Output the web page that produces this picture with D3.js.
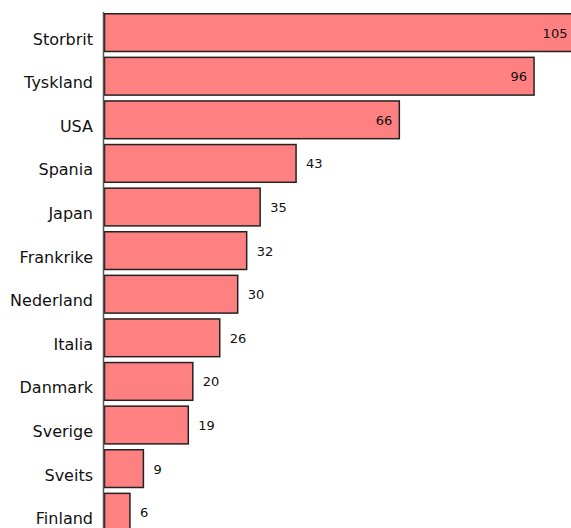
<!DOCTYPE html>
<html>
<head>
<meta charset="utf-8">
<script src="https://d3js.org/d3.v7.min.js"></script>
<style>
    body { margin: 0; background: #fff; }
    svg { display: block; }
    .cat { font-family: "DejaVu Sans", sans-serif; font-size: 16px; fill: #111; }
    .val { font-family: "DejaVu Sans", sans-serif; font-size: 13px; fill: #111; }
</style>
</head>
<body>
<svg id="chart"></svg>
<script>
var countries = ["Storbrit", "Tyskland", "USA", "Spania", "Japan", "Frankrike",
                 "Nederland", "Italia", "Danmark", "Sverige", "Sveits", "Finland"];
var values = [105, 96, 66, 43, 35, 32, 30, 26, 20, 19, 9, 6];

var data = countries.map(function (c, i) { return [c, values[i]]; });

var width = 571, height = 528;
var axisX = 103;   // where the axis line sits
var firstY = 13;
var step = 43.6;

var svg = d3.select("#chart")
    .attr("width", width)
    .attr("height", height);

var xScale = d3.scaleLinear()
    .domain([0, 105])
    .range([axisX, axisX + 105 * 4.49]);

var yScale = d3.scaleBand()
    .domain(countries)
    .range([firstY, firstY + step * (countries.length - 0.1)])
    .paddingInner(0.1)
    .paddingOuter(0);

// Bars
var bar = svg.selectAll("g.bar").data(data).enter()
    .append("g")
    .attr("class", "bar")
    .attr("transform", function (d) { return "translate(0," + yScale(d[0]) + ")"; });

bar.append("rect")
    .attr("x", xScale(0) + 1.5)
    .attr("y", 0.75)
    .attr("width", function (d) { return xScale(d[1]) - xScale(0) - 1.5; })
    .attr("height", yScale.bandwidth() - 1.5)
    .attr("fill", "#ff8080")
    .attr("stroke", "#222")
    .attr("stroke-width", 1.5);

// Value labels: inside the bar for long ones, outside for short ones
bar.append("text")
    .attr("class", "val")
    .attr("x", function (d) { return d[1] > 50 ? xScale(d[1]) - 7 : xScale(d[1]) + 10; })
    .attr("y", yScale.bandwidth() / 2 + 5)
    .attr("text-anchor", function (d) { return d[1] > 50 ? "end" : "start"; })
    .text(function (d) { return d[1]; });

// Category labels
svg.selectAll("text.cat").data(data).enter()
    .append("text")
    .attr("class", "cat")
    .attr("x", 93)
    .attr("y", function (d) { return yScale(d[0]) + yScale.bandwidth() / 2 + 12; })
    .attr("text-anchor", "end")
    .text(function (d) { return d[0]; });

// Axis line
svg.append("line")
    .attr("x1", axisX + 0.5).attr("x2", axisX + 0.5)
    .attr("y1", 12).attr("y2", height)
    .attr("stroke", "#555")
    .attr("stroke-width", 1.5);
</script>
</body>
</html>
